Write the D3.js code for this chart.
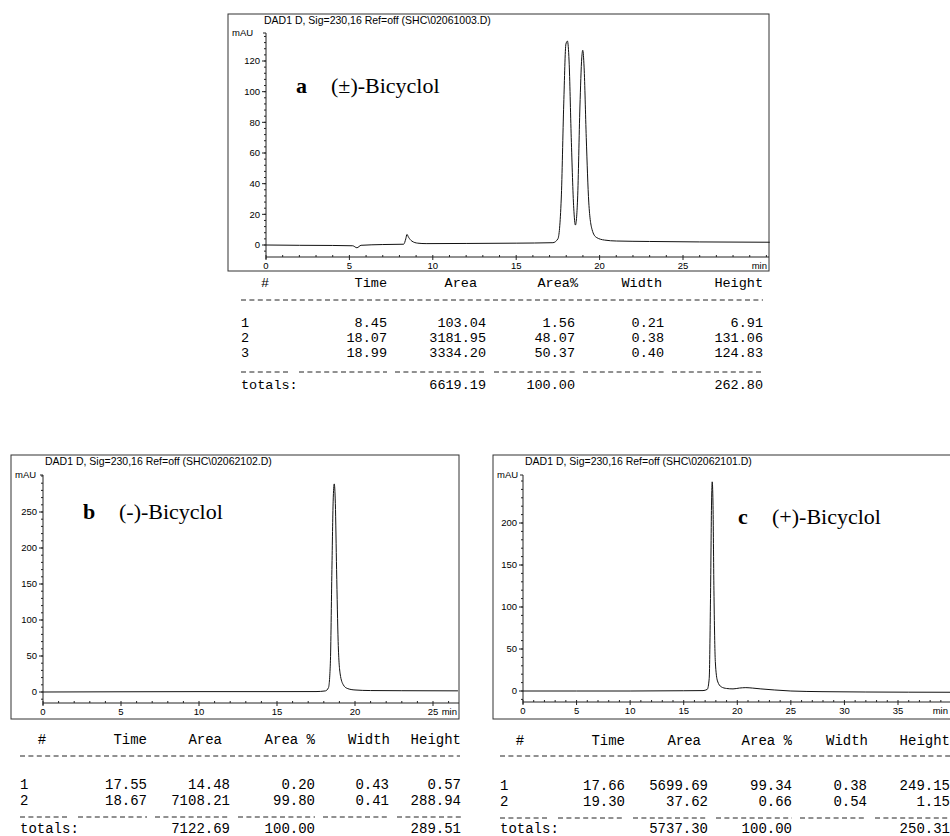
<!DOCTYPE html>
<html>
<head>
<meta charset="utf-8">
<script src="https://cdn.jsdelivr.net/npm/d3@7"></script>
<style>
body { margin: 0; background: #fff; }
</style>
</head>
<body>
<div id="display"></div>
<script>
// --- chromatogram traces (time in min, signal in mAU) ---
var timeA = [0, 2, 4, 5.2, 5.45, 5.7, 7, 8.25, 8.38, 8.45, 8.55, 8.75, 9.1, 9.6, 12, 15, 17.2, 17.5, 17.7, 17.85, 17.98, 18.07, 18.17, 18.3, 18.45, 18.55, 18.68, 18.82, 18.93, 18.99, 19.07, 19.2, 19.35, 19.55, 19.8, 20.3, 21, 23, 26, 30.2];
var mauA = [0, -0.2, -0.3, -0.5, -1.8, -0.2, 0.3, 0.5, 4, 6.9, 5, 2.5, 1.2, 0.9, 1.0, 1.2, 1.5, 4, 30, 92, 131, 133, 120, 70, 24, 13, 30, 90, 122, 127, 116, 70, 28, 10, 5, 3.2, 2.6, 2.3, 2.0, 1.8];

var timeB = [0, 5, 10, 15, 17.5, 18.1, 18.3, 18.42, 18.52, 18.6, 18.67, 18.74, 18.82, 18.92, 19.05, 19.25, 19.5, 20, 21, 23, 26.6];
var mauB = [0, 0.3, 0.5, 0.5, 0.6, 1.5, 6, 40, 170, 265, 289, 262, 170, 70, 25, 10, 5, 2.8, 2.0, 1.8, 1.6];

var timeC = [0, 5, 10, 15, 16.8, 17.2, 17.38, 17.5, 17.6, 17.66, 17.73, 17.82, 17.95, 18.15, 18.5, 19, 19.6, 20.2, 20.8, 21.4, 22.2, 23.5, 25, 28, 32, 36, 40];
var mauC = [0, 0, 0, 0.3, 0.5, 2, 15, 110, 225, 249, 225, 120, 35, 12, 5, 3, 2.5, 3.5, 4, 3.5, 2.5, 1.2, 0, -0.8, -1.2, -1.4, -1.5];

// axis ticks
var yTicksA = [0, 20, 40, 60, 80, 100, 120];
var yTicksB = [0, 50, 100, 150, 200, 250];
var yTicksC = [0, 50, 100, 150, 200];
var xTicksA = [0, 5, 10, 15, 20, 25];
var xTicksB = [0, 5, 10, 15, 20, 25];
var xTicksC = [0, 5, 10, 15, 20, 25, 30, 35];

// headers and titles
var headerA = "DAD1 D, Sig=230,16 Ref=off (SHC\\02061003.D)";
var headerB = "DAD1 D, Sig=230,16 Ref=off (SHC\\02062102.D)";
var headerC = "DAD1 D, Sig=230,16 Ref=off (SHC\\02062101.D)";
var titleLetters = ["a", "b", "c"];
var titleNames = ["(\u00b1)-Bicyclol", "(-)-Bicyclol", "(+)-Bicyclol"];

// peak tables
var colsA = ["#", "Time", "Area", "Area%", "Width", "Height"];
var colsBC = ["#", "Time", "Area", "Area %", "Width", "Height"];
var rowsA = [
  ["1", "8.45", "103.04", "1.56", "0.21", "6.91"],
  ["2", "18.07", "3181.95", "48.07", "0.38", "131.06"],
  ["3", "18.99", "3334.20", "50.37", "0.40", "124.83"]
];
var totalsA = ["totals:", "", "6619.19", "100.00", "", "262.80"];
var rowsB = [
  ["1", "17.55", "14.48", "0.20", "0.43", "0.57"],
  ["2", "18.67", "7108.21", "99.80", "0.41", "288.94"]
];
var totalsB = ["totals:", "", "7122.69", "100.00", "", "289.51"];
var rowsC = [
  ["1", "17.66", "5699.69", "99.34", "0.38", "249.15"],
  ["2", "19.30", "37.62", "0.66", "0.54", "1.15"]
];
var totalsC = ["totals:", "", "5737.30", "100.00", "", "250.31"];

// layout of the three panels
var panels = [
  { times: timeA, mau: mauA, yTicks: yTicksA, xTicks: xTicksA, minorY: 4, header: headerA, headDx: -2,
    frame: [228, 14, 769, 271], axisY: 257, yTop: 33,
    xDom: [0, 25], xRng: [266, 683], yDom: [0, 120], yRng: [245, 61],
    title: [296, 93], titleGap: 35,
    cols: colsA, rows: rowsA, totals: totalsA,
    colX: [265, 387, 486, 575, 664, 763], headX: [265, 387, 477, 578, 662, 763],
    tableY: [287, 300, 327, 342, 357, 372, 389], dashX: [241, 763], font: 13.5 },
  { times: timeB, mau: mauB, yTicks: yTicksB, xTicks: xTicksB, minorY: 10, header: headerB, headDx: 2,
    frame: [11, 455, 459, 719], axisY: 703, yTop: 475,
    xDom: [0, 25], xRng: [43, 433], yDom: [0, 250], yRng: [692, 512],
    title: [83, 519], titleGap: 36,
    cols: colsBC, rows: rowsB, totals: totalsB,
    colX: [42, 147, 230, 315, 389, 461], headX: [42, 147, 222, 315, 390, 461],
    tableY: [744, 756, 789, 805, 0, 817, 833], dashX: [20, 460], font: 14 },
  { times: timeC, mau: mauC, yTicks: yTicksC, xTicks: xTicksC, minorY: 10, header: headerC, headDx: 2,
    frame: [493, 455, 960, 719], axisY: 702, yTop: 475,
    xDom: [0, 35], xRng: [523, 898], yDom: [0, 200], yRng: [691, 523],
    title: [738, 524], titleGap: 34,
    cols: colsBC, rows: rowsC, totals: totalsC,
    colX: [520, 625, 708, 792, 867, 950], headX: [520, 625, 701, 792, 868, 950],
    tableY: [745, 756, 790, 806, 0, 818, 833], dashX: [500, 950], font: 14 }
];

var svg = d3.select("#display")
    .append("svg")
    .attr("width", 950)
    .attr("height", 836);

panels.forEach(function(p, i) {
  var g = svg.append("g");
  var x = d3.scaleLinear().domain(p.xDom).range(p.xRng);
  var y = d3.scaleLinear().domain(p.yDom).range(p.yRng);
  var f = p.frame;
  var ax = x(0);

  // outer frame
  g.append("rect")
      .attr("x", f[0]).attr("y", f[1])
      .attr("width", f[2] - f[0]).attr("height", f[3] - f[1])
      .attr("fill", "none").attr("stroke", "#333").attr("stroke-width", 1);

  g.append("text")
      .attr("x", ax + p.headDx).attr("y", f[1] + 10)
      .style("font", "10.5px 'Liberation Sans', Arial, sans-serif")
      .text(p.header);

  // y axis
  g.append("line")
      .attr("x1", ax).attr("x2", ax).attr("y1", p.yTop).attr("y2", p.axisY + 2)
      .attr("stroke", "#222");
  g.append("line")
      .attr("x1", ax - 3).attr("x2", ax).attr("y1", p.yTop).attr("y2", p.yTop)
      .attr("stroke", "#222");
  var yMinor = d3.range(Math.ceil(y.invert(p.axisY) / p.minorY) * p.minorY, y.invert(p.yTop), p.minorY);
  g.selectAll(".ym").data(yMinor).join("line")
      .attr("x1", ax - 2).attr("x2", ax)
      .attr("y1", d => y(d)).attr("y2", d => y(d))
      .attr("stroke", "#222");
  g.selectAll(".yM").data(p.yTicks).join("line")
      .attr("x1", ax - 4).attr("x2", ax)
      .attr("y1", d => y(d)).attr("y2", d => y(d))
      .attr("stroke", "#222");
  g.selectAll(".yl").data(p.yTicks).join("text")
      .attr("x", ax - 6).attr("y", d => y(d)).attr("dy", "0.35em")
      .attr("text-anchor", "end")
      .style("font", "9.5px 'Liberation Sans', Arial, sans-serif")
      .text(d => d);
  g.append("text")
      .attr("x", f[0] + 4).attr("y", p.yTop + 3)
      .style("font", "9.5px 'Liberation Sans', Arial, sans-serif")
      .text("mAU");

  // x axis
  var xEnd = Math.min(f[2], 950);
  g.append("line")
      .attr("x1", ax).attr("x2", f[2]).attr("y1", p.axisY).attr("y2", p.axisY)
      .attr("stroke", "#222");
  var xMinor = d3.range(0, x.invert(xEnd), 1);
  g.selectAll(".xm").data(xMinor).join("line")
      .attr("x1", d => x(d)).attr("x2", d => x(d))
      .attr("y1", p.axisY - 2).attr("y2", p.axisY)
      .attr("stroke", "#222");
  g.selectAll(".xM").data(p.xTicks).join("line")
      .attr("x1", d => x(d)).attr("x2", d => x(d))
      .attr("y1", p.axisY).attr("y2", p.axisY + 3)
      .attr("stroke", "#222");
  g.selectAll(".xl").data(p.xTicks).join("text")
      .attr("x", d => x(d)).attr("y", p.axisY + 12)
      .attr("text-anchor", "middle")
      .style("font", "9.5px 'Liberation Sans', Arial, sans-serif")
      .text(d => d);
  g.append("text")
      .attr("x", xEnd - 2).attr("y", p.axisY + 12)
      .attr("text-anchor", "end")
      .style("font", "9.5px 'Liberation Sans', Arial, sans-serif")
      .text("min");

  // trace
  var line = d3.line()
      .x(d => x(d[0]))
      .y(d => y(d[1]))
      .curve(d3.curveMonotoneX);
  g.append("path")
      .datum(d3.zip(p.times, p.mau))
      .attr("fill", "none")
      .attr("stroke", "#111")
      .attr("stroke-width", 1)
      .attr("d", line);

  // panel title
  g.append("text")
      .attr("x", p.title[0]).attr("y", p.title[1])
      .style("font", "bold 22px 'Liberation Serif', 'Times New Roman', serif")
      .text(titleLetters[i]);
  g.append("text")
      .attr("x", p.title[0] + p.titleGap).attr("y", p.title[1])
      .style("font", "22px 'Liberation Serif', 'Times New Roman', serif")
      .text(titleNames[i]);

  // peak table
  var mono = p.font + "px 'Liberation Mono', 'Courier New', monospace";
  var ty = p.tableY;
  g.selectAll(".th").data(p.cols).join("text")
      .attr("x", (d, j) => p.headX[j]).attr("y", ty[0])
      .attr("text-anchor", (d, j) => j == 0 ? "middle" : "end")
      .style("font", mono)
      .text(d => d);
  g.append("line")
      .attr("x1", p.dashX[0]).attr("x2", p.dashX[1]).attr("y1", ty[1]).attr("y2", ty[1])
      .attr("stroke", "#222").attr("stroke-dasharray", "5,3.4");
  p.rows.forEach(function(r, k) {
    g.selectAll(".tr" + k).data(r).join("text")
        .attr("x", (d, j) => j == 0 ? p.dashX[0] : p.colX[j]).attr("y", ty[2 + k])
        .attr("text-anchor", (d, j) => j == 0 ? "start" : "end")
        .style("font", mono)
        .text(d => d);
  });
  // separator under the rows, one dash group per column
  var groups = [[p.dashX[0], p.dashX[0] + 50]];
  for (var j = 1; j < p.colX.length; j++) {
    groups.push([p.colX[j - 1] + 8, p.colX[j]]);
  }
  groups[1][0] = p.dashX[0] + 58;
  g.selectAll(".sep").data(groups).join("line")
      .attr("x1", d => d[0]).attr("x2", d => d[1])
      .attr("y1", ty[5]).attr("y2", ty[5])
      .attr("stroke", "#222").attr("stroke-dasharray", "5,3.4");
  g.selectAll(".tt").data(p.totals).join("text")
      .attr("x", (d, j) => j == 0 ? p.dashX[0] : p.colX[j]).attr("y", ty[6])
      .attr("text-anchor", (d, j) => j == 0 ? "start" : "end")
      .style("font", mono)
      .text(d => d);
});
</script>
</body>
</html>
